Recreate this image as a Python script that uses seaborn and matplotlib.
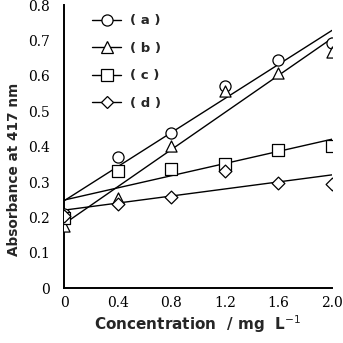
import numpy as np
import pandas as pd
import matplotlib
matplotlib.use("Agg")
import matplotlib.pyplot as plt
import seaborn as sns
from matplotlib.lines import Line2D

conc = [0.0, 0.4, 0.8, 1.2, 1.6, 2.0]
abs_a = [0.209, 0.371, 0.438, 0.572, 0.645, 0.692]
abs_b = [0.175, 0.255, 0.402, 0.558, 0.607, 0.667]
abs_c = [0.199, 0.331, 0.338, 0.350, 0.390, 0.402]
abs_d = [0.205, 0.237, 0.258, 0.331, 0.297, 0.294]
series = ["( a )", "( b )", "( c )", "( d )"]
markers = ["o", "^", "s", "D"]
msizes = [8, 8, 8, 6.5]
xticks = [0, 0.4, 0.8, 1.2, 1.6, 2.0]
xticklabels = ["0", "0.4", "0.8", "1.2", "1.6", "2.0"]
yticks = [0, 0.1, 0.2, 0.3, 0.4, 0.5, 0.6, 0.7, 0.8]
yticklabels = ["0", "0.1", "0.2", "0.3", "0.4", "0.5", "0.6", "0.7", "0.8"]

sns.set_style("white")
plt.rcParams["font.family"] = ["DejaVu Sans"]

df = pd.DataFrame({
    "conc": conc * 4,
    "abs": abs_a + abs_b + abs_c + abs_d,
    "series": sum([[s] * len(conc) for s in series], []),
})

fig = plt.figure(figsize=(3.43, 3.43), dpi=100)
ax = fig.add_axes([0.187, 0.160, 0.781, 0.825])

handles = []
for s, m, ms in zip(series, markers, msizes):
    sub = df[df["series"] == s]
    sns.regplot(data=sub, x="conc", y="abs", ax=ax, ci=None, scatter=False,
                line_kws=dict(color="black", lw=1.0), truncate=True)
    sns.scatterplot(data=sub, x="conc", y="abs", ax=ax, marker=m, s=ms ** 2,
                    facecolor="white", edgecolor="black", linewidth=0.9,
                    zorder=3, legend=False)
    handles.append(Line2D([], [], color="black", lw=1.0, marker=m, markersize=ms,
                          markerfacecolor="white", markeredgecolor="black",
                          markeredgewidth=0.9, label=s))

ax.set_xlim(0, 2.0)
ax.set_ylim(0, 0.8)
ax.set_xticks(xticks)
ax.set_xticklabels(xticklabels, family="DejaVu Serif", fontsize=10)
ax.set_yticks(yticks)
ax.set_yticklabels(yticklabels, family="DejaVu Serif", fontsize=10)
ax.tick_params(axis="both", direction="in", length=3, width=1, pad=6, colors="black")
ax.tick_params(axis="y", pad=10)
for side in ["top", "right"]:
    ax.spines[side].set_visible(False)
for side in ["left", "bottom"]:
    ax.spines[side].set_color("black")
    ax.spines[side].set_linewidth(1.4)
    ax.spines[side].set_clip_on(False)

ax.set_xlabel("Concentration  / mg  L$^{-1}$", fontsize=11, fontweight="bold", labelpad=2)
ax.set_ylabel("Absorbance at 417 nm", fontsize=9.8, fontweight="bold")
ax.yaxis.set_label_coords(-0.16, 0.42)

leg = ax.legend(handles=handles, loc="upper left", bbox_to_anchor=(0.06, 1.01),
                frameon=False, handlelength=2.2, labelspacing=1.1,
                handletextpad=0.7, prop=dict(weight="bold", size=9.5))

fig.savefig("out.png", dpi=100)
